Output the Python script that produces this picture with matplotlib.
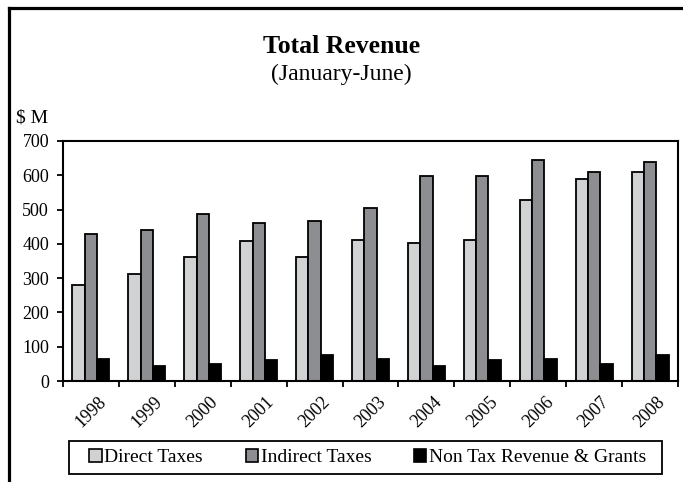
import matplotlib.pyplot as plt
import numpy as np
from matplotlib.lines import Line2D
from matplotlib.patches import Patch, Rectangle

years = ["1998", "1999", "2000", "2001", "2002", "2003",
         "2004", "2005", "2006", "2007", "2008"]
direct_taxes = [279, 312, 362, 407, 362, 412, 403, 412, 528, 590, 611]
indirect_taxes = [428, 440, 487, 462, 466, 506, 599, 599, 644, 611, 640]
non_tax = [65, 44, 49, 60, 77, 65, 44, 60, 65, 49, 77]

series = [
    ("Direct Taxes", direct_taxes, "#d1d2d4"),
    ("Indirect Taxes", indirect_taxes, "#8d8e92"),
    ("Non Tax Revenue & Grants", non_tax, "#000000"),
]

plt.rcParams["font.family"] = ["Liberation Serif", "DejaVu Serif"]

fig = plt.figure(figsize=(6.83, 4.82), dpi=100)
ax = fig.add_axes([0.0922, 0.2095, 0.9005, 0.498])

x = np.arange(len(years))
width = 0.22
for i, (name, vals, color) in enumerate(series):
    ax.bar(x + (i - 1) * width, vals, width, color=color,
           edgecolor="black", linewidth=1.3, label=name)

ax.set_xlim(-0.5, len(years) - 0.5)
ax.set_ylim(0, 700)
ax.set_yticks(range(0, 701, 100))
ax.tick_params(axis="y", labelsize=13, length=4, width=1.3, direction="out", pad=6)

# ticks sit between the year groups, labels at the group centres
ax.set_xticks(np.arange(len(years) + 1) - 0.5)
ax.set_xticklabels([])
ax.set_xticks(x, minor=True)
ax.set_xticklabels(years, minor=True, rotation=45, ha="center", va="top",
                   fontsize=13)
ax.tick_params(axis="x", which="major", length=4.5, width=1.3, direction="out")
ax.tick_params(axis="x", which="minor", length=0, pad=9)

for s in ax.spines.values():
    s.set_linewidth(1.5)

fig.text(0.5, 0.903, "Total Revenue", ha="center", va="center",
         fontsize=18.5, fontweight="bold")
fig.text(0.5, 0.845, "(January-June)", ha="center", va="center", fontsize=17)
fig.text(0.024, 0.755, "$ M", ha="left", va="center", fontsize=14)

handles = [Patch(facecolor=c, edgecolor="black", linewidth=1.2, label=n)
           for n, _, c in series]
leg = fig.legend(handles=handles, loc="center left",
                 bbox_to_anchor=(0.131, 0.0508), ncol=3, fontsize=14,
                 frameon=False, handlelength=0.62, handleheight=0.62,
                 handletextpad=0.15, columnspacing=2.2, borderpad=0.0,
                 borderaxespad=0.0)

# legend box, wider than the entries on both sides
fig.add_artist(Rectangle((69 / 683, 1 - 474 / 482), 593 / 683, 33 / 482,
                         transform=fig.transFigure, fill=False,
                         edgecolor="black", linewidth=1.3))

# outer border of the chart area (left and top edges)
fig.add_artist(Line2D([0.0139, 0.0139], [0.0, 0.984], color="black",
                      linewidth=2.3, transform=fig.transFigure))
fig.add_artist(Line2D([0.0125, 1.0], [0.984, 0.984], color="black",
                      linewidth=2.3, transform=fig.transFigure))

fig.savefig("out.png", dpi=100)
